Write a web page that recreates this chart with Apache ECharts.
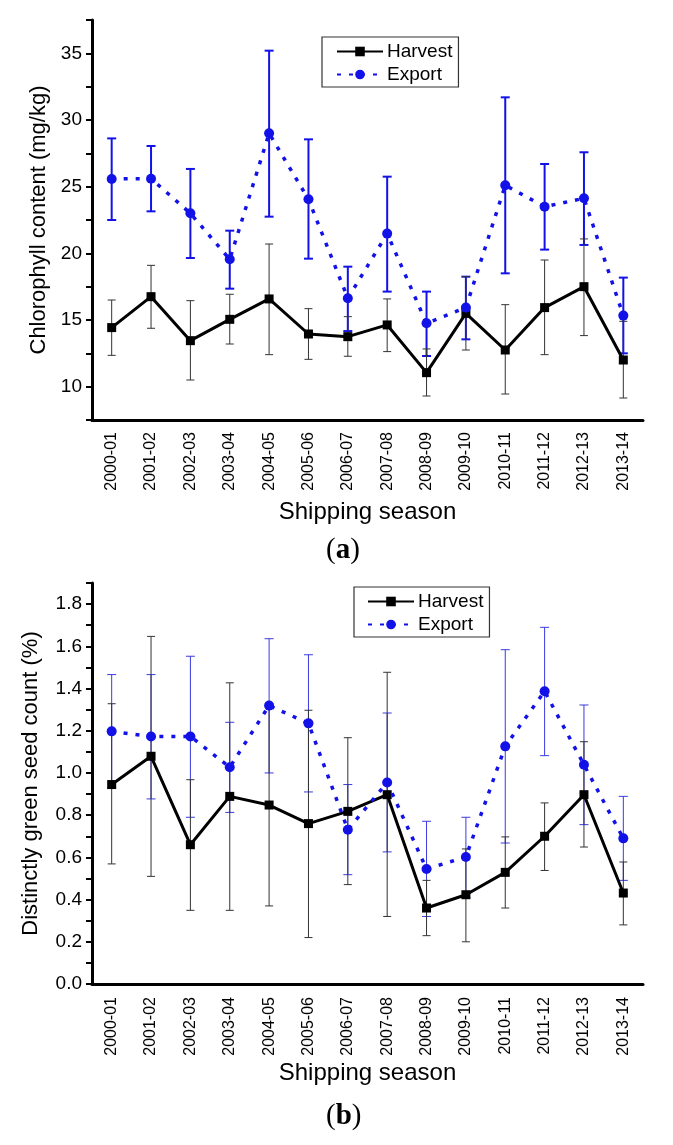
<!DOCTYPE html>
<html>
<head>
<meta charset="utf-8">
<script src="https://cdn.jsdelivr.net/npm/echarts@6/dist/echarts.min.js"></script>
<style>
html,body{margin:0;padding:0;background:#fff;}
#chart{width:673px;height:1145px;}
</style>
</head>
<body>
<div id="chart"></div>
<script>
// ---------- data ----------
const seasons = ['2000-01','2001-02','2002-03','2003-04','2004-05','2005-06','2006-07','2007-08','2008-09','2009-10','2010-11','2011-12','2012-13','2013-14'];

// (a) Chlorophyll content (mg/kg)
const harvestA      = [14.43,16.75,13.45,15.05,16.58,13.95,13.75,14.63,11.05,15.50,12.75,15.93,17.50,12.00];
const harvestA_low  = [12.35,14.38,10.50,13.20,12.40,12.05,12.28,12.63, 9.30,12.75, 9.45,12.40,13.83, 9.15];
const harvestA_high = [16.50,19.10,16.45,16.93,20.70,15.85,15.25,16.58,12.83,18.25,16.15,19.50,21.08,14.90];
const exportA       = [25.58,25.60,23.00,19.55,29.00,24.05,16.63,21.48,14.75,15.93,25.10,23.50,24.13,15.33];
const exportA_low   = [22.50,23.15,19.65,17.35,22.75,19.60,14.17,17.13,12.30,13.55,18.50,20.28,20.63,12.50];
const exportA_high  = [28.62,28.05,26.33,21.70,35.20,28.55,19.00,25.75,17.13,18.25,31.70,26.70,27.58,18.18];

// (b) Distinctly green seed count (%)
const harvestB      = [0.945,1.079,0.660,0.889,0.848,0.760,0.818,0.897,0.360,0.423,0.529,0.700,0.897,0.431];
const harvestB_low  = [0.569,0.510,0.349,0.349,0.370,0.220,0.471,0.320,0.229,0.200,0.360,0.538,0.649,0.280];
const harvestB_high = [1.328,1.647,0.968,1.427,1.330,1.297,1.167,1.477,0.491,0.640,0.697,0.858,1.148,0.578];
const exportB       = [1.197,1.173,1.173,1.027,1.319,1.235,0.731,0.955,0.545,0.602,1.126,1.387,1.039,0.690];
const exportB_low   = [0.930,0.877,0.790,0.813,1.000,0.910,0.518,0.626,0.320,0.410,0.668,1.082,0.755,0.491];
const exportB_high  = [1.466,1.466,1.553,1.240,1.636,1.560,0.945,1.284,0.771,0.790,1.584,1.690,1.322,0.889];

const seriesNames = ['Harvest','Export'];
const yNameA = 'Chlorophyll content (mg/kg)';
const yNameB = 'Distinctly green seed count (%)';
const xName = 'Shipping season';

// ---------- chart ----------
const BLUE = '#1212e8';
const FONT = 'Liberation Sans, Arial, sans-serif';

function errData(lo, hi){ return lo.map((v,i)=>[i, v, hi[i]]); }
function errRender(color, width, cap){
  return function(params, api){
    const i = api.value(0);
    const p1 = api.coord([i, api.value(1)]);
    const p2 = api.coord([i, api.value(2)]);
    const st = {stroke: color, lineWidth: width};
    return {type:'group', children:[
      {type:'line', shape:{x1:p1[0], y1:p1[1], x2:p2[0], y2:p2[1]}, style:st},
      {type:'line', shape:{x1:p1[0]-cap, y1:p1[1], x2:p1[0]+cap, y2:p1[1]}, style:st},
      {type:'line', shape:{x1:p2[0]-cap, y1:p2[1], x2:p2[0]+cap, y2:p2[1]}, style:st}
    ]};
  };
}

function xAxisCfg(gridIndex, margin, gap){
  return {
    type:'category', gridIndex, data: seasons, boundaryGap:true,
    name: xName, nameLocation:'middle', nameGap: gap,
    nameTextStyle:{fontSize:24, color:'#000', fontFamily:FONT},
    axisLine:{lineStyle:{color:'#000', width:3}},
    axisTick:{alignWithLabel:true, length:7, lineStyle:{color:'#000', width:3}},
    axisLabel:{rotate:90, fontSize:16, color:'#000', margin, fontFamily:FONT}
  };
}

const option = {
  animation:false,
  backgroundColor:'#fff',
  grid:[
    {left:92, width:551, top:20, height:400},
    {left:92, width:551, top:583, height:401}
  ],
  xAxis:[ xAxisCfg(0, 12, 80), xAxisCfg(1, 13, 77) ],
  yAxis:[
    {type:'value', gridIndex:0, min:7.5, max:37.5, interval:2.5,
     name:yNameA, nameLocation:'middle', nameGap:42,
     nameTextStyle:{fontSize:22, color:'#000', fontFamily:FONT},
     axisLine:{show:true, lineStyle:{color:'#000', width:3}},
     axisTick:{show:true, length:6, lineStyle:{color:'#000', width:2}},
     splitLine:{show:false},
     axisLabel:{fontSize:19, color:'#000', margin:10, fontFamily:FONT,
       formatter:v=> (Math.abs(v % 5) < 1e-6 ? String(v) : '')}
    },
    {type:'value', gridIndex:1, min:0, max:1.9, interval:0.1,
     name:yNameB, nameLocation:'middle', nameGap:50,
     nameTextStyle:{fontSize:22, color:'#000', fontFamily:FONT},
     axisLine:{show:true, lineStyle:{color:'#000', width:3}},
     axisTick:{show:true, length:6, lineStyle:{color:'#000', width:2}},
     splitLine:{show:false},
     axisLabel:{fontSize:19, color:'#000', margin:10, fontFamily:FONT,
       formatter:v=> (Math.round(v*10) % 2 === 0 ? v.toFixed(1) : '')}
    }
  ],
  legend:[
    {orient:'vertical', left:322, top:37, data:seriesNames, selectedMode:false,
     itemWidth:46, itemHeight:12, itemGap:4, padding:[5,6,3,14],
     borderColor:'#333', borderWidth:1.2,
     textStyle:{fontSize:19, color:'#000', fontFamily:FONT, padding:[0,0,0,-1]}},
    {orient:'vertical', left:354, top:587, data:seriesNames, selectedMode:false,
     itemWidth:46, itemHeight:12, itemGap:4, padding:[5,6,3,13],
     borderColor:'#333', borderWidth:1.2,
     textStyle:{fontSize:19, color:'#000', fontFamily:FONT, padding:[0,0,0,-1]}}
  ],
  graphic:[
    {type:'text', left:326, top:536, style:{text:'{p|(}{b|a}{p|)}', rich:{
      p:{fontSize:29, fontFamily:'Liberation Serif, serif', fill:'#000'},
      b:{fontSize:29, fontFamily:'Liberation Serif, serif', fontWeight:'bold', fill:'#000'}}}},
    {type:'text', left:326, top:1102, style:{text:'{p|(}{b|b}{p|)}', rich:{
      p:{fontSize:29, fontFamily:'Liberation Serif, serif', fill:'#000'},
      b:{fontSize:29, fontFamily:'Liberation Serif, serif', fontWeight:'bold', fill:'#000'}}}}
  ],
  series:[
    // chart (a)
    {type:'custom', name:'errExportA', xAxisIndex:0, yAxisIndex:0, z:2,
     data: errData(exportA_low, exportA_high), encode:{x:0, y:[1,2]},
     renderItem: errRender(BLUE, 2, 4.5)},
    {type:'custom', name:'errHarvestA', xAxisIndex:0, yAxisIndex:0, z:2,
     data: errData(harvestA_low, harvestA_high), encode:{x:0, y:[1,2]},
     renderItem: errRender('#333', 1, 4)},
    {type:'line', name:'Harvest', xAxisIndex:0, yAxisIndex:0, z:3, data: harvestA,
     symbol:'rect', symbolSize:9, itemStyle:{color:'#000'},
     lineStyle:{color:'#000', width:3}},
    {type:'line', name:'Export', xAxisIndex:0, yAxisIndex:0, z:4, data: exportA,
     symbol:'circle', symbolSize:10, itemStyle:{color:BLUE},
     lineStyle:{color:BLUE, width:3.5, type:[4,8]}},
    // chart (b)
    {type:'custom', name:'errExportB', xAxisIndex:1, yAxisIndex:1, z:2,
     data: errData(exportB_low, exportB_high), encode:{x:0, y:[1,2]},
     renderItem: errRender('#3a3ae0', 1, 4.5)},
    {type:'custom', name:'errHarvestB', xAxisIndex:1, yAxisIndex:1, z:2,
     data: errData(harvestB_low, harvestB_high), encode:{x:0, y:[1,2]},
     renderItem: errRender('#333', 1, 4)},
    {type:'line', name:'Harvest', xAxisIndex:1, yAxisIndex:1, z:3, data: harvestB,
     symbol:'rect', symbolSize:9, itemStyle:{color:'#000'},
     lineStyle:{color:'#000', width:3}},
    {type:'line', name:'Export', xAxisIndex:1, yAxisIndex:1, z:4, data: exportB,
     symbol:'circle', symbolSize:10, itemStyle:{color:BLUE},
     lineStyle:{color:BLUE, width:3.5, type:[4,8]}}
  ]
};

const chart = echarts.init(document.getElementById('chart'), null, {renderer:'canvas'});
chart.setOption(option);
</script>
</body>
</html>
